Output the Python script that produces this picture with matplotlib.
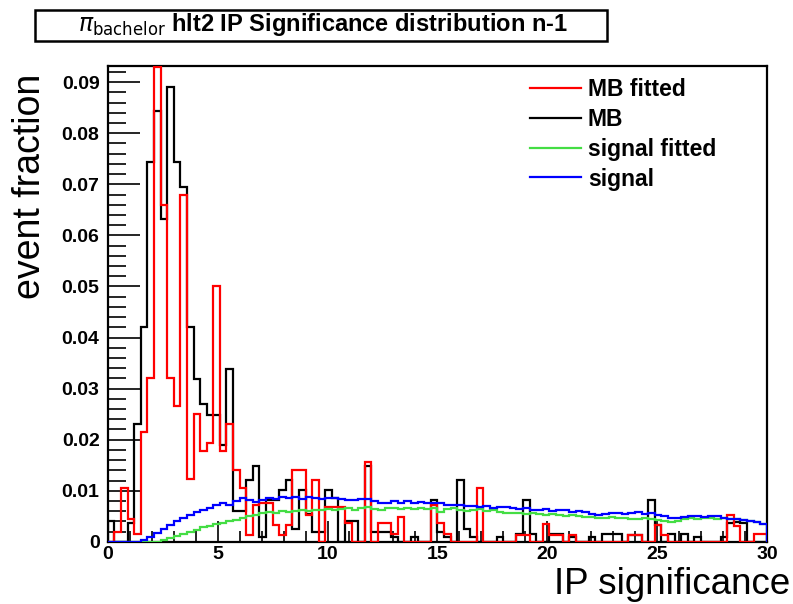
import numpy as np
import matplotlib
matplotlib.use('Agg')
import matplotlib.pyplot as plt
from matplotlib.patches import Rectangle
from matplotlib.ticker import MultipleLocator, FuncFormatter

# 100 bins of width 0.3 over IP significance 0..30
edges = np.linspace(0, 30, 101)

mb_fitted = [
    0.0, 0.002, 0.0106, 0.0045, 0.0015, 0.0215, 0.032, 0.093, 0.066, 0.032,
    0.0266, 0.068, 0.0123, 0.025, 0.0177, 0.0193, 0.050, 0.0177, 0.023, 0.0141,
    0.0106, 0.0013, 0.0072, 0.0075, 0.0075, 0.0033, 0.0013, 0.0033, 0.0141, 0.0141,
    0.0052, 0.0121, 0.0, 0.0069, 0.0069, 0.0069, 0.0036, 0.0, 0.0, 0.0157,
    0.0, 0.0036, 0.0036, 0.0016, 0.0049, 0.0, 0.0, 0.0, 0.0, 0.0072,
    0.0036, 0.0016, 0.0, 0.0, 0.0, 0.0, 0.0105, 0.0, 0.0, 0.0,
    0.0, 0.0, 0.0013, 0.0013, 0.0, 0.0, 0.0034, 0.0013, 0.0013, 0.0,
    0.0013, 0.0, 0.0, 0.0, 0.0, 0.0, 0.0, 0.0, 0.0, 0.0013,
    0.0013, 0.0, 0.0, 0.0033, 0.0013, 0.0, 0.0, 0.0, 0.0, 0.0,
    0.0, 0.0, 0.0, 0.0, 0.0052, 0.003, 0.0, 0.0, 0.0016, 0.0016,
]

mb = [
    0.004, 0.0, 0.0, 0.0036, 0.023, 0.042, 0.0743, 0.0844, 0.0633, 0.089,
    0.0743, 0.0695, 0.042, 0.0318, 0.0269, 0.0249, 0.0249, 0.019, 0.0338, 0.006,
    0.006, 0.0121, 0.0148, 0.001, 0.0082, 0.0082, 0.0102, 0.0121, 0.0026, 0.0102,
    0.0055, 0.002, 0.002, 0.0102, 0.0085, 0.0, 0.004, 0.004, 0.0, 0.0148,
    0.002, 0.002, 0.002, 0.001, 0.0, 0.0, 0.001, 0.0, 0.0, 0.0082,
    0.002, 0.001, 0.0, 0.0121, 0.0026, 0.001, 0.0, 0.0, 0.0, 0.001,
    0.0, 0.0, 0.0016, 0.0081, 0.0016, 0.0, 0.0, 0.0016, 0.0016, 0.0,
    0.001, 0.0, 0.0, 0.001, 0.0, 0.0016, 0.0016, 0.0016, 0.0, 0.0013,
    0.0013, 0.0, 0.0081, 0.0033, 0.0, 0.0016, 0.0, 0.0016, 0.0, 0.001,
    0.0, 0.0, 0.0, 0.001, 0.0036, 0.0039, 0.0036, 0.0, 0.0, 0.0,
]

signal_fitted = [
    0.0, 0.0, 0.0, 0.0, 0.0, 0.0, 0.0, 0.0, 0.0003, 0.0008,
    0.0012, 0.0016, 0.002, 0.0024, 0.0028, 0.0031, 0.0034, 0.0037, 0.004, 0.0043,
    0.0046, 0.005, 0.0053, 0.0056, 0.0058, 0.0056, 0.006, 0.0058, 0.006, 0.0062,
    0.006, 0.0063, 0.0062, 0.0065, 0.0063, 0.0065, 0.0066, 0.0063, 0.0066, 0.0068,
    0.0065, 0.0063, 0.0066, 0.0066, 0.0064, 0.0067, 0.0064, 0.0066, 0.0064, 0.0066,
    0.0058, 0.0064, 0.0066, 0.0063, 0.006, 0.0062, 0.0064, 0.006, 0.0062, 0.0058,
    0.0056, 0.0057, 0.0056, 0.0054, 0.0056, 0.0054, 0.0052, 0.0054, 0.0052, 0.005,
    0.0052, 0.005, 0.0048, 0.0048, 0.0046, 0.0046, 0.0048, 0.0046, 0.0046, 0.0044,
    0.0044, 0.0046, 0.0044, 0.0042, 0.004, 0.0038, 0.004, 0.0044, 0.0046, 0.0044,
    0.0046, 0.0046, 0.0044, 0.0046, 0.0044, 0.0044, 0.0042, 0.004, 0.0038, 0.0034,
]

signal = [
    0.0, 0.0, 0.0, 0.0, 0.0, 0.0003, 0.001, 0.0018, 0.0026, 0.0033,
    0.004, 0.0046, 0.0052, 0.0058, 0.0062, 0.0066, 0.0072, 0.0076, 0.0072, 0.008,
    0.0085, 0.0082, 0.0078, 0.0082, 0.0086, 0.0083, 0.0087, 0.0085, 0.0088, 0.0084,
    0.0088, 0.0085, 0.0083, 0.0085, 0.0085, 0.0083, 0.0081, 0.0081, 0.0084, 0.0084,
    0.008, 0.0076, 0.0076, 0.008, 0.0076, 0.008, 0.0076, 0.0078, 0.0075, 0.0076,
    0.0076, 0.0072, 0.0072, 0.0072, 0.007, 0.007, 0.0068, 0.007, 0.0066, 0.0068,
    0.0068, 0.0066, 0.0064, 0.0066, 0.0063, 0.0062, 0.0064, 0.006, 0.0062, 0.0062,
    0.0058, 0.006, 0.0058, 0.0054, 0.0052, 0.0054, 0.0056, 0.0056, 0.0054, 0.0056,
    0.0058, 0.0054, 0.0056, 0.0052, 0.005, 0.0046, 0.0046, 0.0048, 0.005, 0.005,
    0.0048, 0.005, 0.005, 0.0047, 0.0044, 0.0044, 0.0042, 0.004, 0.0038, 0.0034,
]

series = [
    ('MB fitted', mb_fitted, '#ff0000', 3),
    ('MB', mb, '#000000', 2),
    ('signal fitted', signal_fitted, '#44dd44', 4),
    ('signal', signal, '#0000ff', 5),
]

font = 'Liberation Sans'

fig = plt.figure(figsize=(7.93, 6.04), dpi=100)
ax = fig.add_axes([0.136, 0.103, 0.831, 0.788])

for name, vals, col, z in series:
    ax.stairs(vals, edges, baseline=0, color=col, lw=1.6, label=name, zorder=z)

ax.set_xlim(0, 30)
ax.set_ylim(0, 0.0932)

ax.xaxis.set_major_locator(MultipleLocator(5))
ax.xaxis.set_minor_locator(MultipleLocator(1))
ax.yaxis.set_major_locator(MultipleLocator(0.01))
ax.yaxis.set_minor_locator(MultipleLocator(0.002))
ax.yaxis.set_major_formatter(FuncFormatter(lambda v, p: '0' if abs(v) < 1e-9 else f'{v:.2f}'))

ax.tick_params(which='both', direction='in', top=False, right=False)
ax.tick_params(axis='y', which='major', length=23, width=1.2, pad=6)
ax.tick_params(axis='y', which='minor', length=13, width=1.2)
ax.tick_params(axis='x', which='major', length=15, width=1.2, pad=3)
ax.tick_params(axis='x', which='minor', length=8, width=1.2)
for lab in ax.get_xticklabels() + ax.get_yticklabels():
    lab.set_fontfamily(font)
    lab.set_fontweight('bold')
    lab.set_fontsize(14)

for sp in ax.spines.values():
    sp.set_linewidth(1.6)

fig.text(0.038, 0.878, 'event fraction', rotation=90, ha='center', va='top',
         fontsize=27, family=font)
fig.text(0.997, 0.033, 'IP significance', ha='right', va='center',
         fontsize=26.5, family=font)

leg = ax.legend(loc='upper left', bbox_to_anchor=(0.61, 1.018), frameon=False,
                handlelength=2.2, handletextpad=0.3, labelspacing=0.3,
                prop={'family': font, 'weight': 'bold', 'size': 16.5})

# title box
fig.patches.append(Rectangle((35 / 793, 1 - 41 / 604), (607 - 35) / 793, 31 / 604,
                             transform=fig.transFigure, fill=False,
                             edgecolor='black', lw=1.8))
fig.text(323 / 793, 1 - 25 / 604,
         r'$\pi_{\mathrm{bachelor}}$' + ' hlt2 IP Significance distribution n-1',
         ha='center', va='center', fontsize=17, fontweight='bold', family=font)

fig.savefig('out.png', dpi=100)
